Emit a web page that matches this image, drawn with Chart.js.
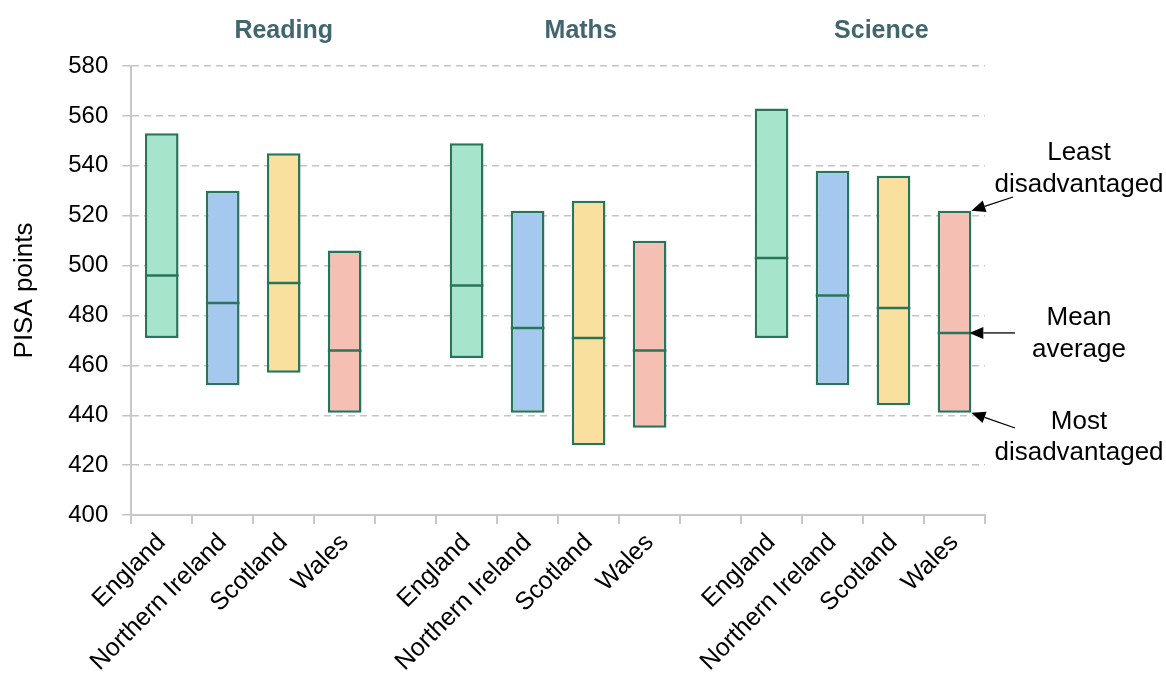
<!DOCTYPE html>
<html>
<head>
<meta charset="utf-8">
<script src="https://cdn.jsdelivr.net/npm/chart.js@4"></script>
<style>
	body { margin: 0; background: #fff; }
	#wrap { width: 1166px; height: 681px; }
</style>
</head>
<body>
<div id="wrap"><canvas id="pisa"></canvas></div>
<script>
var categories = ['England', 'Northern Ireland', 'Scotland', 'Wales', '',
	'England', 'Northern Ireland', 'Scotland', 'Wales', '',
	'England', 'Northern Ireland', 'Scotland', 'Wales']
var lowest = [471, 452, 457, 441, null, 463, 441, 428, 435, null, 471, 452, 444, 441]
var meanScore = [496, 485, 493, 466, null, 492, 475, 471, 466, null, 503, 488, 483, 473]
var highest = [553, 530, 545, 506, null, 549, 522, 526, 510, null, 563, 538, 536, 522]
var subjects = ['Reading', 'Maths', 'Science']
var yTicks = [400, 420, 440, 460, 480, 500, 520, 540, 560, 580]

var countryFill = {
	'England': '#a6e5cb',
	'Northern Ireland': '#a5c9ee',
	'Scotland': '#fae09e',
	'Wales': '#f6bfb3'
}
var fills = categories.map(function(c){ return countryFill[c] || 'rgba(0,0,0,0)' })
var edge = '#28755a'

var ranges = categories.map(function(c, i){ return lowest[i] == null ? null : [lowest[i], highest[i]] })
// thin band round the mean so it shows as a line across the bar
var meanMarks = categories.map(function(c, i){ return meanScore[i] == null ? null : [meanScore[i] - 0.5, meanScore[i] + 0.5] })

// subject headings sit over these category positions
var subjectPos = [2, 6.87, 11.8]

var extras = {
	id: 'extras',
	afterDraw: function(chart)
	{
		var ctx = chart.ctx
		var x = chart.scales.x
		var y = chart.scales.y
		ctx.save()
		ctx.fillStyle = '#41666e'
		ctx.font = 'bold 25px "Liberation Sans", Arial, sans-serif'
		ctx.textAlign = 'center'
		ctx.textBaseline = 'middle'
		subjects.forEach(function(s, i){ ctx.fillText(s, x.getPixelForValue(subjectPos[i]), 31) })

		// notes pointing at the last bar
		var bar = chart.getDatasetMeta(1).data[13]
		var right = bar.x + bar.width / 2
		var last = 13
		var notes = [
			{ lines: ['Least', 'disadvantaged'], ty: [153, 185], from: [1013, 197], to: [right, y.getPixelForValue(highest[last])] },
			{ lines: ['Mean', 'average'], ty: [318, 350], from: [1015, y.getPixelForValue(meanScore[last])], to: [right - 2, y.getPixelForValue(meanScore[last])] },
			{ lines: ['Most', 'disadvantaged'], ty: [422, 453], from: [1015, 428], to: [right, y.getPixelForValue(lowest[last])] }
		]
		ctx.fillStyle = '#000'
		ctx.strokeStyle = '#000'
		ctx.font = '26px "Liberation Sans", Arial, sans-serif'
		notes.forEach(function(n)
		{
			ctx.fillText(n.lines[0], 1079, n.ty[0])
			ctx.fillText(n.lines[1], 1079, n.ty[1])
			var ang = Math.atan2(n.to[1] - n.from[1], n.to[0] - n.from[0])
			var hl = 14, hw = 6
			var bx = n.to[0] - hl * Math.cos(ang), by = n.to[1] - hl * Math.sin(ang)
			ctx.lineWidth = 1.3
			ctx.beginPath()
			ctx.moveTo(n.from[0], n.from[1])
			ctx.lineTo(bx, by)
			ctx.stroke()
			ctx.beginPath()
			ctx.moveTo(n.to[0], n.to[1])
			ctx.lineTo(bx + hw * Math.sin(ang), by - hw * Math.cos(ang))
			ctx.lineTo(bx - hw * Math.sin(ang), by + hw * Math.cos(ang))
			ctx.closePath()
			ctx.fill()
		})
		ctx.restore()
	}
}

var ctx0 = document.getElementById('pisa')
var pisaChart = new Chart(ctx0, {
	type: 'bar',
	data: {
		labels: categories,
		datasets: [{
			data: meanMarks,
			backgroundColor: edge,
			borderWidth: 0,
			order: 0
		},
		{
			data: ranges,
			backgroundColor: fills,
			borderColor: edge,
			borderWidth: 2.5,
			borderSkipped: false,
			order: 1
		}]
	},
	options: {
		responsive: true,
		maintainAspectRatio: false,
		animation: false,
		devicePixelRatio: 1,
		layout: { padding: { top: 66, right: 181, left: 9, bottom: 0 } },
		datasets: { bar: { grouped: false, categoryPercentage: 0.6, barPercentage: 0.92 } },
		plugins: {
			legend: { display: false },
			tooltip: { enabled: false }
		},
		scales: {
			x: {
				grid: { drawOnChartArea: false, color: '#c8c8c8', lineWidth: 2, tickLength: 9 },
				border: { color: '#c8c8c8', width: 2 },
				ticks: {
					autoSkip: false,
					maxRotation: 45,
					minRotation: 45,
					color: '#000',
					padding: 4,
					font: { family: '"Liberation Sans", Arial, sans-serif', size: 25 }
				}
			},
			y: {
				min: 400,
				max: 580,
				afterBuildTicks: function(axis){ axis.ticks = yTicks.map(function(v){ return { value: v } }) },
				grid: {
					color: '#c4c4c4',
					lineWidth: 1.5,
					tickLength: 9
				},
				border: { color: '#c8c8c8', width: 2, dash: [7, 5] },
				ticks: {
					color: '#000',
					padding: 14,
					font: { family: '"Liberation Sans", Arial, sans-serif', size: 24 }
				},
				title: {
					display: true,
					text: 'PISA points',
					color: '#000',
					padding: { top: 0, bottom: 14 },
					font: { family: '"Liberation Sans", Arial, sans-serif', size: 26 }
				}
			}
		}
	},
	plugins: [extras]
})
</script>
</body>
</html>
